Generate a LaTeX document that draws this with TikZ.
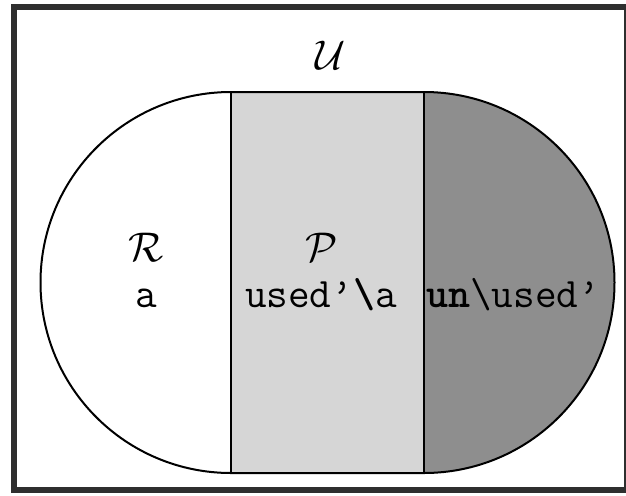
\documentclass[tikz,border=0pt]{standalone}
\usepackage{fontspec}
\usetikzlibrary{positioning}
\definecolor{pfill}{HTML}{D6D6D6}
\definecolor{ufill}{HTML}{8E8E8E}
\definecolor{rim}{HTML}{2F2F2F}
\tikzset{
  edge/.style={draw=black, line width=1pt},
  frame/.style={draw=rim, line width=3pt},
  cal/.style={font=\fontsize{21}{24}\selectfont, inner sep=0pt},
  code/.style={font=\fontsize{21}{24}\selectfont\ttfamily, inner sep=0pt, anchor=base}
}

\begin{document}
\begin{tikzpicture}[x=0.5pt,y=0.5pt]
\useasboundingbox (0,0) rectangle (626,495);
\fill[white] (0,0) rectangle (626,495);
\draw[frame] (14,5) rectangle (627,488);
% regions
\fill[pfill] (231,22) rectangle (424,403);
\fill[ufill] (424,403) arc[start angle=90, end angle=-90, radius=190.5] -- cycle;
\draw[edge] (231,403) -- (424,403) arc[start angle=90, end angle=-90, radius=190.5]
  -- (231,22) arc[start angle=270, end angle=90, radius=190.5] -- cycle;
\draw[edge] (231,403) -- (231,22);
\draw[edge] (424,403) -- (424,22);
% labels
\node[cal] (U) at (331,440) {$\mathcal{U}$};
\node[cal] (R) at (146,248) {$\mathcal{R}$};
\node[cal] (P) at (322,248) {$\mathcal{P}$};
\node[code] (a) at (146,188) {a};
\node[code] (used) at (321,188) {used’\textbf{\textbackslash}a};
\node[code] (unused) at (513,188) {\textbf{un}\textbackslash used’};
\end{tikzpicture}
\end{document}
